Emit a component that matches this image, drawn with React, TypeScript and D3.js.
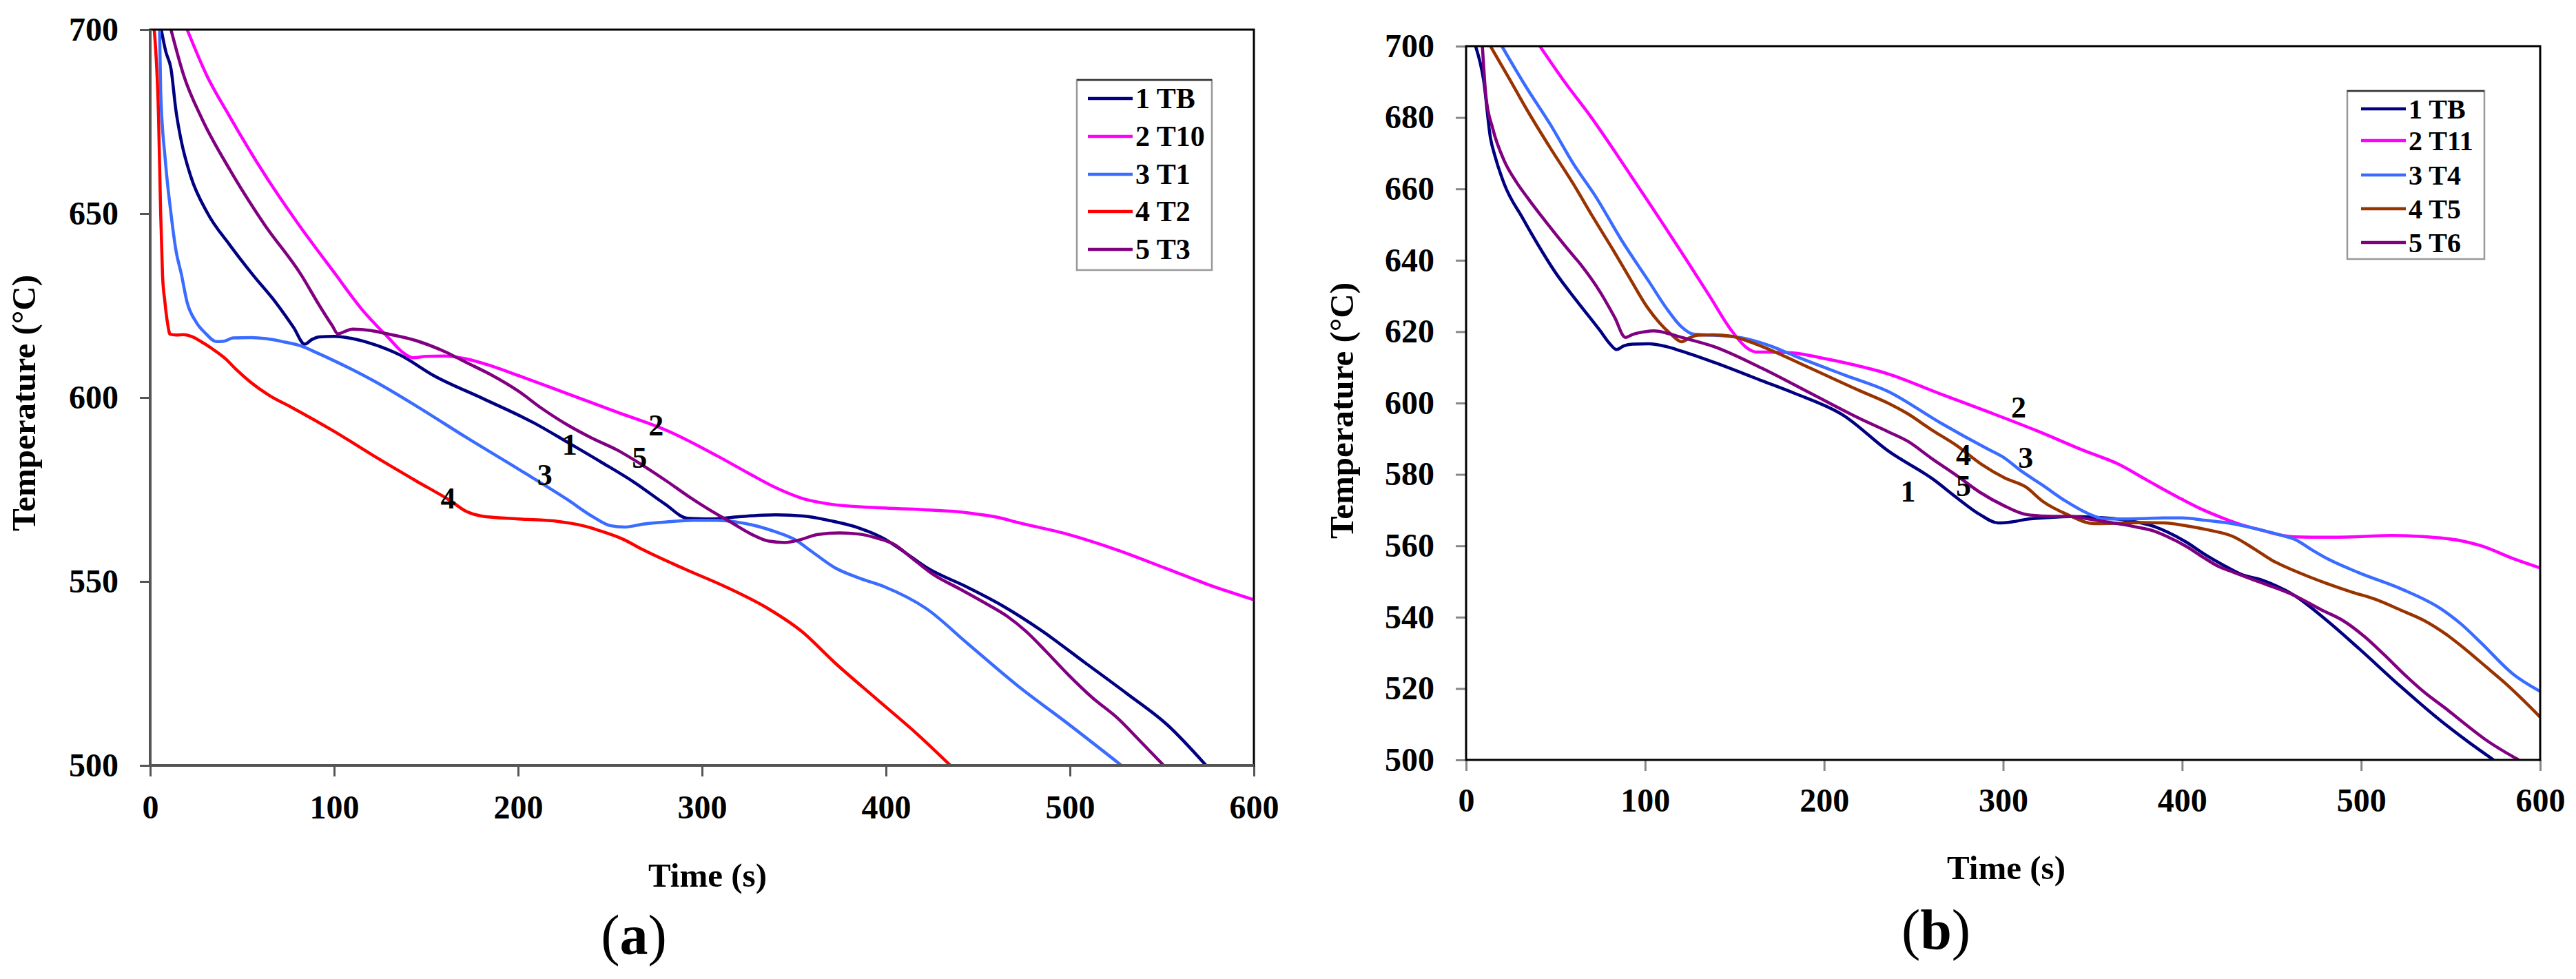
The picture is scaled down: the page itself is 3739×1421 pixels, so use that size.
import { useEffect, useRef } from 'react';
import * as d3 from 'd3';

type Pt = [number, number];

// ---- panel (a) series: [time s, temperature °C]
const aTB: Pt[] = [
  [6, 700], [8.5, 694], [11.3, 689.4], [14, 678], [17, 669.5], [22, 660.2], [31.3, 650], [43.2, 641.5],
  [55.7, 633.4], [68, 626], [78, 619], [84, 614.5], [88, 615.8], [92, 616.5], [100, 616.6], [110, 616],
  [118, 615], [136, 611.5], [154, 606], [181, 599.7], [209, 593], [227, 587.8], [245, 582.5], [263, 577],
  [280, 571], [292, 567.2], [305, 567], [320, 567.6], [340, 568.1], [355, 567.8], [370, 566.5], [385, 564.6],
  [399, 561.6], [410, 558], [422, 553.8], [444, 548.5], [463, 543.5], [485, 536.5], [508, 528], [531, 519.5],
  [553, 511], [574, 500],
];
const aT10: Pt[] = [
  [20.1, 700], [30.7, 687.6], [43.2, 676.4], [62, 660.8], [80.6, 647.1], [100, 634], [115, 624], [130, 616],
  [138, 612], [143, 610.8], [150, 611.2], [160, 611.3], [172, 610.5], [186, 608.5], [200, 606], [227, 601],
  [254, 596], [281, 591], [308, 584.2], [325, 579.5], [340, 575.5], [355, 572.5], [370, 571], [390, 570.2],
  [417, 569.6], [444, 568.7], [460, 567.5], [472, 566], [499, 562.8], [526, 558.5], [553, 553.4], [576, 549],
  [600, 545],
];
const aT1: Pt[] = [
  [5.1, 700], [5.7, 683.2], [8.2, 664.6], [11.3, 650], [14, 640], [17, 633.4], [20, 626], [25, 620.5],
  [30, 617.5], [36, 615.2], [40, 615.3], [45, 616.2], [55, 616.3], [63, 616], [72, 615.2], [82, 614],
  [90, 612.3], [100, 610], [122, 604.4], [145, 597.6], [172, 589.1], [200, 580.6], [227, 572.2], [240, 567.8],
  [250, 565.2], [258, 564.8], [268, 565.6], [281, 566.2], [295, 566.6], [308, 566.6], [318, 566.2], [327, 565.4],
  [340, 563.5], [350, 561.5], [360, 558], [372, 553.8], [385, 551], [399, 548.6], [422, 542.6], [444, 533.3],
  [472, 521.5], [499, 511.3], [528, 500],
];
const aT2: Pt[] = [
  [2.2, 700], [4.5, 677], [5.7, 650], [6.7, 633.4], [8, 626], [9.5, 620], [10.8, 617.2], [14, 617],
  [18, 617.1], [23, 616.5], [27, 615.4], [33, 613.5], [41, 610.5], [47, 607.5], [54, 604.4], [65, 600.5],
  [77, 597.3], [100, 590.8], [122, 584], [145, 577.2], [163, 572], [172, 569], [180, 567.8], [200, 567],
  [222, 566.3], [235, 565.2], [245, 563.7], [257, 561.5], [268, 558.6], [290, 553.5], [313, 548.5], [336, 542.6],
  [354, 536.5], [372, 528], [395, 518], [417, 508.5], [435, 500],
];
const aT3: Pt[] = [
  [11.3, 700], [18.2, 687.6], [28.2, 675.7], [43.2, 662], [62, 647.1], [82, 633.4], [92, 625], [99, 619.5],
  [102, 617.3], [106, 618], [110, 618.6], [120, 618.2], [127, 617.5], [145, 615.4], [160, 612.5], [172, 609.5],
  [186, 606], [200, 601.8], [213, 597], [227, 592.5], [240, 589], [254, 585.7], [268, 581.5], [281, 577.2],
  [293, 573], [304, 569.5], [316, 566], [327, 562.8], [336, 561], [345, 560.6], [353, 561.3], [363, 562.8],
  [375, 563.2], [385, 562.9], [395, 561.8], [404, 560.2], [415, 556], [426, 551.8], [440, 548], [454, 544.1],
  [466, 540.5], [476, 536.5], [487, 531], [499, 524.7], [512, 518.5], [526, 512.8], [538, 506.7], [551, 500],
];

// ---- panel (b) series
const bTB: Pt[] = [
  [5.3, 700], [9.8, 690.4], [13.6, 674.3], [16.2, 669.1], [21.3, 661.4], [31.6, 651.8], [40, 644.5], [49.6, 636.8],
  [62, 628.5], [75, 620.2], [80, 616.8], [84, 615], [88, 616], [93, 616.5], [102, 616.6], [112, 615.8],
  [120, 614.6], [138.5, 611.4], [165.5, 606.2], [183.6, 602.7], [210.6, 596.6], [236, 586.5], [261.3, 578.5], [274, 573.5],
  [286.9, 568.8], [297.2, 566.4], [305, 566.7], [312.6, 567.4], [325, 567.9], [338.2, 568.2], [350, 568], [363.9, 567.5],
  [375, 566.6], [383.1, 565.6], [392, 563.8], [402.4, 561], [412, 557.8], [422.6, 554.7], [433, 552], [445, 550.3],
  [463, 546], [481, 539], [499, 531.1], [522, 520.6], [544.4, 511], [560, 505], [574, 500],
];
const bT11: Pt[] = [
  [41.2, 700], [55, 690], [70, 680], [84, 669.8], [97, 660], [110, 650.2], [122.6, 640.5], [136, 630],
  [148, 620.5], [156, 615.8], [162, 614.3], [168, 614.3], [176, 614.2], [183.6, 614], [197, 612.8], [210.6, 611.4],
  [235.6, 608.2], [264.8, 602.6], [291.8, 597.5], [319, 592.2], [346, 586.5], [363.9, 583], [380, 578.5], [400, 573],
  [412, 570], [422.6, 567.8], [435, 565.6], [445, 564.3], [455, 563], [463, 562.5], [480, 562.4], [500, 562.6],
  [517, 562.9], [530, 562.7], [544.4, 562.2], [556, 561.4], [567, 560], [585, 556.4], [600, 553.8],
];
const bT4: Pt[] = [
  [20, 700], [33, 689], [47, 678.1], [60, 667], [72.7, 657.6], [87, 645.5], [102.2, 634], [112, 626.5],
  [120, 621.5], [127, 619.3], [138.5, 619], [156.5, 618], [170, 616], [183.6, 613.2], [210.6, 608], [235.6, 603.3],
  [264.8, 594.5], [291.8, 587], [299.8, 584.9], [310, 581], [322, 577], [335, 572.5], [348.5, 568.8], [356, 567.6],
  [363.9, 567.5], [377.5, 567.6], [389.6, 567.8], [400, 567.8], [412, 567.2], [428, 566.2], [445, 564.3], [455, 563],
  [463, 561.8], [472, 559], [481, 556.4], [499, 552.4], [522, 548], [544.4, 542.4], [556, 538], [567, 532.8],
  [585, 524], [600, 519.2],
];
const bT5: Pt[] = [
  [13.6, 700], [24, 691], [34.2, 682], [47, 671.5], [59.9, 661.4], [71, 652], [82, 643], [92, 634.5],
  [101, 627], [108, 622.5], [114, 619.5], [120.4, 617.2], [125, 618.3], [129.5, 619], [138, 619.1], [147.5, 618.8],
  [156, 617.6], [165.5, 615.8], [192.6, 609.7], [219.7, 603.5], [235.6, 600], [246.7, 597], [260, 592.5], [274, 588.1],
  [288, 582.8], [300.9, 579], [312.6, 576.5], [322, 572.5], [335.7, 568.8], [351, 566.2], [365, 566.3], [376.7, 566.5],
  [390, 566.4], [402.4, 565.6], [415, 564.4], [428, 562.7], [440.7, 559], [450, 556], [459, 553.8], [470, 551.5],
  [481, 549.4], [495, 547], [508, 545], [522, 542], [535.4, 539], [548, 535], [558, 531.1], [570, 526],
  [580.5, 521.5], [590, 517], [600, 512],
];
const bT6: Pt[] = [
  [9.1, 700], [11.1, 685.9], [14.9, 676.9], [21.3, 667.9], [28, 662], [34.2, 657.6], [45, 650.5], [57, 643],
  [63.7, 639], [75, 631], [83, 624], [89, 618.4], [93.4, 619.3], [100, 620], [105, 620.2], [112, 619.6],
  [120.4, 618.4], [138.5, 615.8], [165.5, 609.7], [192.6, 602.7], [219.7, 595.7], [235.6, 592], [246.7, 589.3], [260, 584.5],
  [274, 579.7], [287, 575], [299.8, 571.4], [312.6, 568.8], [325, 568.3], [338.2, 568.2], [350, 567.3], [363.9, 566.2],
  [375, 565.2], [383.1, 564.3], [392, 562.5], [402.4, 559.8], [412, 556.7], [420, 554.3], [428, 552.7], [440.7, 550.3],
  [463, 546], [478, 542], [490, 539], [502, 534.5], [513, 529.4], [524, 524], [535.4, 518.9], [547, 514.5],
  [558, 510.1], [570, 505.5], [588, 500],
];

const legendA = ['1 TB', '2 T10', '3 T1', '4 T2', '5 T3'];
const legendB = ['1 TB', '2 T11', '3 T4', '4 T5', '5 T6'];
const colorsA = ['#000080', '#ff00ff', '#3a6cff', '#ff0000', '#800080'];
const colorsB = ['#000080', '#ff00ff', '#3a6cff', '#993300', '#800080'];

const xTicks = [0, 100, 200, 300, 400, 500, 600];
const yTicksA = [500, 550, 600, 650, 700];
const yTicksB = [500, 520, 540, 560, 580, 600, 620, 640, 660, 680, 700];

// curve number labels: [text, time, temperature]
const tagsA: [string, number, number][] = [['1', 228, 587.1], ['2', 275, 592.5], ['3', 214.5, 579], ['4', 162, 572.6], ['5', 266, 583.7]];
const tagsB: [string, number, number][] = [['1', 246.9, 575.2], ['2', 308.7, 598.7], ['3', 312.6, 584.6], ['4', 277.9, 585.5], ['5', 277.9, 576.7]];

const FONT = '"Liberation Serif", "Times New Roman", serif';

interface Panel {
  id: string;
  series: Pt[][];
  colors: string[];
  legend: string[];
  yTicks: number[];
  tags: [string, number, number][];
  letter: string;
  box: { left: number; right: number; top: number; bottom: number };
  tickColor: string;
  xPad: number;
  yTitle: [number, number];
  xTitle: [number, number];
  letterPos: [number, number];
  leg: { x: number; y: number; w: number; h: number; rows: number[]; lx0: number; lx1: number; tx: number; fs: number };
}

const panels: Panel[] = [
  {
    id: 'a', series: [aTB, aT10, aT1, aT2, aT3], colors: colorsA, legend: legendA, yTicks: yTicksA, tags: tagsA, letter: 'a',
    box: { left: 218, right: 1820, top: 43, bottom: 1111 }, tickColor: '#555', xPad: 27,
    yTitle: [51, 585], xTitle: [1027, 1287], letterPos: [920, 1385],
    leg: { x: 1563, y: 116, w: 196, h: 276, rows: [143, 198, 253, 307, 362], lx0: 1579, lx1: 1644, tx: 1648, fs: 42 },
  },
  {
    id: 'b', series: [bTB, bT11, bT4, bT5, bT6], colors: colorsB, legend: legendB, yTicks: yTicksB, tags: tagsB, letter: 'b',
    box: { left: 2128, right: 3687, top: 67, bottom: 1103 }, tickColor: '#888', xPad: 25,
    yTitle: [1964, 596], xTitle: [2912, 1276], letterPos: [2810, 1377],
    leg: { x: 3407, y: 132, w: 199, h: 244, rows: [158, 204, 254, 303, 352], lx0: 3427, lx1: 3492, tx: 3496, fs: 40 },
  },
];

const App = () => {
  const svgRef = useRef<SVGSVGElement>(null);

  useEffect(() => {
    if (!svgRef.current) return;
    const root = d3.select(svgRef.current);
    root.selectAll('*').remove();

    panels.forEach(p => {
      const { left, right, top, bottom } = p.box;
      const x = d3.scaleLinear().domain([0, 600]).range([left, right]);
      const y = d3.scaleLinear().domain([500, 700]).range([bottom, top]);
      const g = root.append('g');

      g.append('defs').append('clipPath').attr('id', `clip-${p.id}`)
        .append('rect').attr('x', left).attr('y', top).attr('width', right - left).attr('height', bottom - top);

      // axes
      const yAxis = g.append('g').attr('transform', `translate(${left},0)`)
        .call(d3.axisLeft(y).tickValues(p.yTicks).tickSize(15).tickSizeOuter(0).tickPadding(31).tickFormat(d3.format('d')));
      const xAxis = g.append('g').attr('transform', `translate(0,${bottom})`)
        .call(d3.axisBottom(x).tickValues(xTicks).tickSize(16).tickSizeOuter(0).tickPadding(p.xPad).tickFormat(d3.format('d')));
      [yAxis, xAxis].forEach(ax => {
        ax.select('.domain').remove();
        ax.selectAll('line').attr('stroke', p.tickColor).attr('stroke-width', 3);
        ax.selectAll('text').attr('fill', '#000').style('font-family', FONT).style('font-weight', 'bold').style('font-size', '48px');
      });

      // curves
      const line = d3.line<Pt>().x(d => x(d[0])).y(d => y(d[1])).curve(d3.curveMonotoneX);
      const curves = g.append('g').attr('clip-path', `url(#clip-${p.id})`);
      p.series.forEach((s, i) => {
        curves.append('path').datum(s).attr('fill', 'none').attr('stroke', p.colors[i])
          .attr('stroke-width', 4.5).attr('stroke-linejoin', 'round').attr('d', line);
      });

      // frame
      g.append('rect').attr('x', left).attr('y', top).attr('width', right - left).attr('height', bottom - top)
        .attr('fill', 'none').attr('stroke', '#000').attr('stroke-width', 3);
      if (p.id === 'a') {
        g.append('path').attr('d', `M${left},${top}V${bottom}H${right}`)
          .attr('fill', 'none').attr('stroke', '#555').attr('stroke-width', 4);
      }

      // curve numbers
      g.selectAll('.tag').data(p.tags).enter().append('text')
        .attr('x', d => x(d[1])).attr('y', d => y(d[2]))
        .attr('text-anchor', 'middle').attr('dominant-baseline', 'central')
        .style('font-family', FONT).style('font-weight', 'bold').style('font-size', '44px')
        .text(d => d[0]);

      // legend
      const L = p.leg;
      const lg = g.append('g');
      lg.append('rect').attr('x', L.x).attr('y', L.y).attr('width', L.w).attr('height', L.h)
        .attr('fill', '#fff').attr('stroke', '#999').attr('stroke-width', 2.5);
      lg.append('line').attr('x1', L.x).attr('x2', L.x + L.w).attr('y1', L.y).attr('y2', L.y)
        .attr('stroke', '#333').attr('stroke-width', 2.5);
      p.legend.forEach((name, i) => {
        lg.append('line').attr('x1', L.lx0).attr('x2', L.lx1).attr('y1', L.rows[i]).attr('y2', L.rows[i])
          .attr('stroke', p.colors[i]).attr('stroke-width', 4.5);
        lg.append('text').attr('x', L.tx).attr('y', L.rows[i]).attr('dominant-baseline', 'central')
          .style('font-family', FONT).style('font-weight', 'bold').style('font-size', `${L.fs}px`)
          .text(name);
      });

      // titles
      g.append('text').attr('transform', `translate(${p.yTitle[0]},${p.yTitle[1]}) rotate(-90)`)
        .attr('text-anchor', 'middle')
        .style('font-family', FONT).style('font-weight', 'bold').style('font-size', '49px')
        .text('Temperature (°C)');
      g.append('text').attr('x', p.xTitle[0]).attr('y', p.xTitle[1]).attr('text-anchor', 'middle')
        .style('font-family', FONT).style('font-weight', 'bold').style('font-size', '49px')
        .text('Time (s)');
      const lt = g.append('text').attr('x', p.letterPos[0]).attr('y', p.letterPos[1]).attr('text-anchor', 'middle')
        .style('font-family', FONT).style('font-size', '82px');
      lt.append('tspan').text('(');
      lt.append('tspan').style('font-weight', 'bold').text(p.letter);
      lt.append('tspan').text(')');
    });
  }, []);

  return (
    <svg ref={svgRef} width={3739} height={1421}
      style={{ position: 'absolute', left: 0, top: 0, background: '#fff' }} />
  );
};

export default App;
